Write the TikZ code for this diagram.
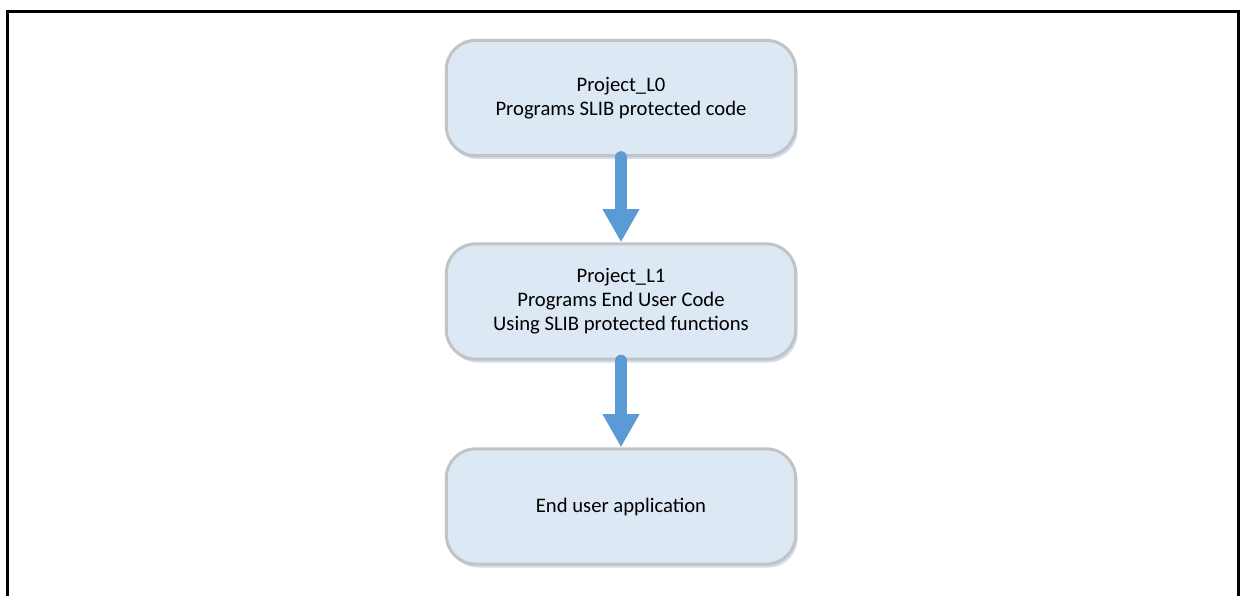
\documentclass[tikz,border=0pt]{standalone}
\usepackage{fontspec}
\setmainfont{Carlito}
\usetikzlibrary{arrows.meta,shadows}
\definecolor{boxfill}{HTML}{DDE8F5}
\definecolor{boxline}{HTML}{C3C3C3}
\definecolor{boxshadow}{HTML}{CFDEF1}
\definecolor{arrowblue}{HTML}{5B9BD5}
\tikzset{
  stepbox/.style={draw=boxline, line width=2.25pt, fill=boxfill,
    rounded corners=22pt, minimum width=262pt, minimum height=86.5pt,
    align=center, font=\fontsize{15.5pt}{18pt}\selectfont, text=black,
    drop shadow={shadow xshift=1.5pt, shadow yshift=-2.5pt, fill=boxshadow, opacity=1}},
  flowarrow/.style={draw=arrowblue, line width=9pt, line cap=round,
    -{Triangle[width=26pt,length=25pt]}, arrowblue},
  frameline/.style={draw=black, line width=2.25pt}
}
\begin{document}
\begin{tikzpicture}[x=0.75pt,y=-0.75pt]
\useasboundingbox (0,0) rectangle (1246,596);
\draw[frameline] (7.5,610) -- (7.5,11.5) -- (1238.5,11.5) -- (1238.5,610);
\node[stepbox] (b1) at (621,98) {Project\_L0\\Programs SLIB protected code};
\node[stepbox] (b2) at (621,301.5) {Project\_L1\\Programs End User Code\\Using SLIB protected functions};
\node[stepbox] (b3) at (621,506.5) {End user application};
\draw[flowarrow] (b1.south) -- (b2.north);
\draw[flowarrow] (b2.south) -- (b3.north);
\end{tikzpicture}
\end{document}
